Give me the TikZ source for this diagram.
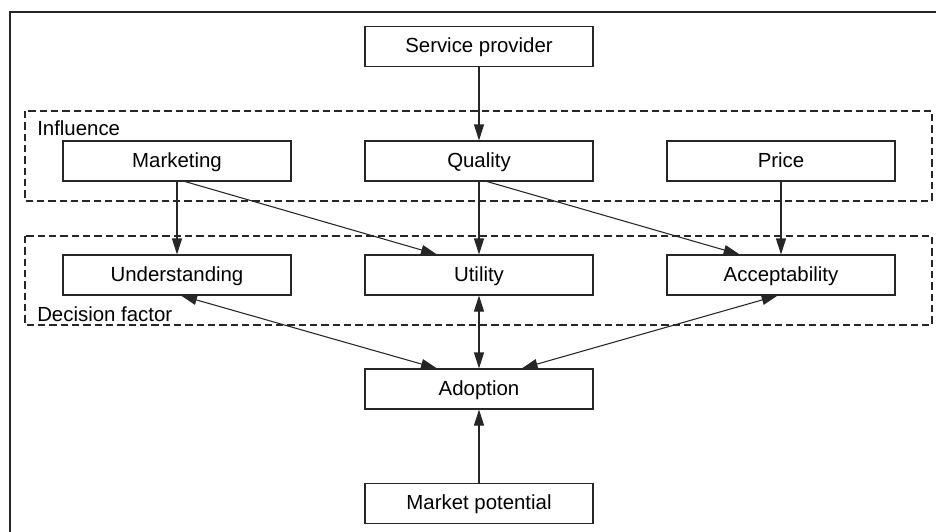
\documentclass[tikz,border=0pt]{standalone}
\usepackage{fontspec}
\setmainfont{Liberation Sans}
\usetikzlibrary{arrows.meta}

\begin{document}
\begin{tikzpicture}[x=0.75pt,y=-0.75pt,
  box/.style={draw=black!85,line width=0.8pt,minimum width=171pt,minimum height=30pt,inner sep=0pt,text height=12pt,text depth=2.5pt,font=\fontsize{15.3}{18}\selectfont},
  grp/.style={draw=black!85,line width=0.8pt,dash pattern=on 5.5pt off 3pt},
  lbl/.style={anchor=base west,inner sep=0pt,font=\fontsize{15.3}{18}\selectfont},
  arr/.style={draw=black!85,line width=0.8pt,-{Triangle[length=12pt,width=7.5pt]}},
  darr/.style={draw=black!85,line width=0.8pt,{Triangle[length=12pt,width=7.5pt]}-{Triangle[length=12pt,width=7.5pt]}}]
\useasboundingbox (0,0) rectangle (936,532);
\draw[black!85,line width=0.8pt] (10,532)--(10,12)--(936,12);

% groups
\draw[grp] (25,111) rectangle (932,201);
\draw[grp] (25,236) rectangle (932,325);
\node[lbl] (infl) at (37,135) {Influence};
\node[lbl] (dec) at (37,321) {Decision factor};

\node[box] (sp) at (479,46.5) {Service provider};
\node[box] (mk) at (177,161) {Marketing};
\node[box] (ql) at (479,161) {Quality};
\node[box] (pr) at (781,161) {Price};
\node[box] (un) at (177,275) {Understanding};
\node[box] (ut) at (479,275) {Utility};
\node[box] (ac) at (781,275) {Acceptability};
\node[box] (ad) at (479,389) {Adoption};
\node[box] (mp) at (479,503.5) {Market potential};

\draw[arr] (sp)--(ql);
\draw[arr] (mk)--(un);
\draw[arr] ([xshift=6pt]mk.south)--([xshift=-31.5pt]ut.north);
\draw[arr] (ql)--(ut);
\draw[arr] ([xshift=6pt]ql.south)--([xshift=-31pt]ac.north);
\draw[arr] (pr)--(ac);
\draw[darr] ([xshift=3pt]un.south)--([xshift=-31.5pt]ad.north);
\draw[darr] (ut)--(ad);
\draw[darr] ([xshift=-2.5pt]ac.south)--([xshift=32pt]ad.north);
\draw[arr] (mp)--(ad);
\end{tikzpicture}
\end{document}
